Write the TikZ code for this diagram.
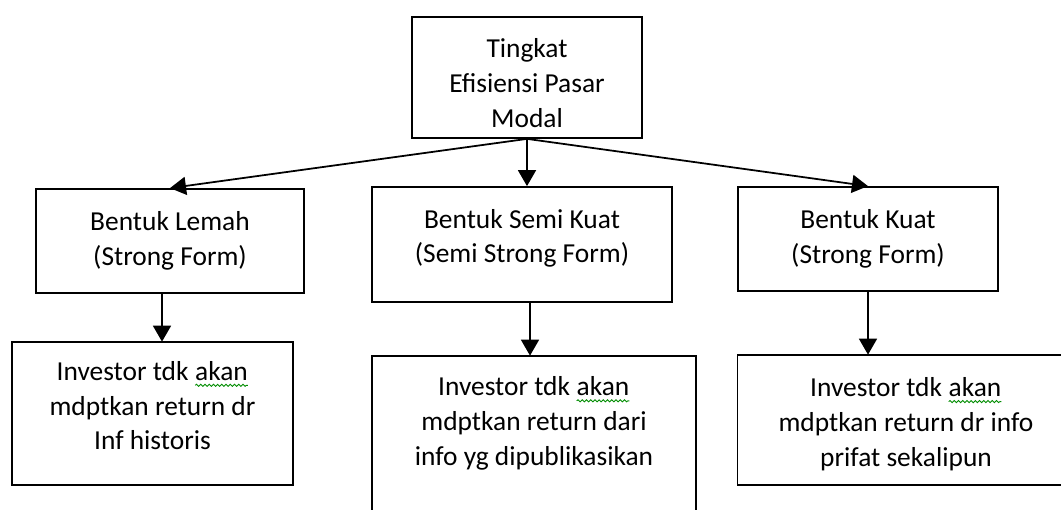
\documentclass[tikz,border=0pt]{standalone}
\usepackage{fontspec}
\setmainfont{Carlito}
\usepackage{tikz}
\usetikzlibrary{arrows.meta,calc,decorations.pathmorphing}
\newcommand{\spellmark}[1]{\tikz[baseline=(w.base)]{\node[draw=none,inner sep=0pt,outer sep=0pt,minimum size=0pt,align=left] (w) {#1};
  \draw[draw=green!55!black,line width=0.5pt,decorate,decoration={snake,amplitude=0.6pt,segment length=2.4pt}] ([yshift=-3pt]w.base west) -- ([yshift=-3pt]w.base east);}}
% struts that move the text lines inside a box
\newcommand{\up}[1]{\rule[-#1]{0pt}{0pt}}
\newcommand{\down}[1]{\rule{0pt}{#1}}

\begin{document}
\begin{tikzpicture}[line width=1pt]
  \tikzstyle{box} = [draw,align=center,inner sep=0pt,font=\fontsize{15.6pt}{19.9pt}\selectfont];
  \tikzset{arr/.style={-{Triangle[width=0.36cm,length=0.32cm]}}};
  \useasboundingbox (0,0) rectangle (21.22,10.2);
  \clip (0,0) rectangle (21.22,10.2);
  \node[box,minimum width=4.6cm,minimum height=2.42cm] (tingkat) at (10.54,8.65) {\down{0.62cm}Tingkat\\Efisiensi Pasar\\Modal};
  \node[box,minimum width=5.36cm,minimum height=2.08cm] (lemah) at (3.40,5.38) {Bentuk Lemah\\(Strong Form)};
  \node[box,minimum width=6.0cm,minimum height=2.3cm] (semikuat) at (10.44,5.31) {Bentuk Semi Kuat\\(Semi Strong Form)\up{0.34cm}};
  \node[box,minimum width=5.2cm,minimum height=2.08cm] (kuat) at (17.36,5.42) {Bentuk Kuat\\(Strong Form)};
  \node[box,minimum width=5.62cm,minimum height=2.86cm] (historis) at (3.05,1.93) {Investor tdk \spellmark{akan}\\mdptkan return dr\\Inf historis\up{0.32cm}};
  \node[box,minimum width=6.48cm,minimum height=3.28cm] (publik) at (10.68,1.44) {Investor tdk \spellmark{akan}\\mdptkan return dari\\info yg dipublikasikan\up{0.68cm}};
  \node[box,minimum width=6.74cm,minimum height=2.6cm] (prifat) at (18.12,1.8) {\down{0.54cm}Investor tdk \spellmark{akan}\\mdptkan return dr info\\prifat sekalipun};
  \draw[arr] (tingkat.south) -- (lemah.north);
  \draw[arr] (tingkat.south) -- (tingkat.south |- semikuat.north);
  \draw[arr] (tingkat.south) -- (kuat.north);
  \draw[arr] ([xshift=-0.16cm]lemah.south) -- ([xshift=-0.16cm]lemah.south |- historis.north);
  \draw[arr] ([xshift=0.16cm]semikuat.south) -- ([xshift=0.16cm]semikuat.south |- publik.north);
  \draw[arr] (kuat.south) -- (kuat.south |- prifat.north);
\end{tikzpicture}
\end{document}
